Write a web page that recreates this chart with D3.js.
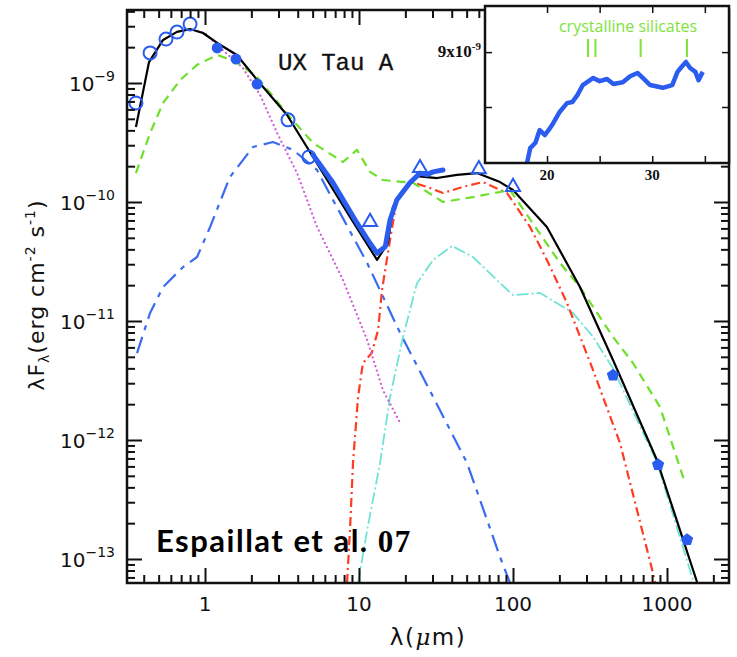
<!DOCTYPE html>
<html>
<head>
<meta charset="utf-8">
<script src="https://cdn.jsdelivr.net/npm/d3@7"></script>
<style>
body { margin: 0; background: #fff; }
</style>
</head>
<body>
<script>
// SED of UX Tau A, [lambda (um), lambda F_lambda (erg cm-2 s-1)]
var totalModel = [[0.356,4.27e-10],[0.433,1.50e-9],[0.534,2.30e-9],[0.658,2.69e-9],[0.80,2.84e-9],[0.97,2.63e-9],
  [1.20,2.17e-9],[1.61,1.72e-9],[2.18,1.06e-9],[3.41,5.38e-10],[5.03,2.39e-10],[8.74,7.48e-11],[13.1,3.26e-11],
  [15.4,4.52e-11],[16.6,9.08e-11],[19.3,1.26e-10],[23.8,1.65e-10],[32.1,1.59e-10],[43.3,1.69e-10],[58.3,1.75e-10],
  [82.4,1.47e-10],[100,1.26e-10],[166,6.17e-11],[272,1.93e-11],[446,4.70e-12],[860,6.79e-13],[1567,6.41e-14]];
var outerDisk = [[0.356,1.75e-10],[0.44,3.80e-10],[0.534,6.79e-10],[0.69,1.06e-9],[0.887,1.42e-9],[1.20,1.72e-9],
  [1.61,1.50e-9],[2.18,1.12e-9],[3.56,5.18e-10],[5.03,3.13e-10],[7.87,2.17e-10],[9.7,2.74e-10],[11.8,1.79e-10],
  [14.3,1.53e-10],[22.4,1.45e-10],[35.1,1.0e-10],[55,1.10e-10],[95.7,1.26e-10],[202,3.07e-11],[272,1.93e-11],
  [446,7.35e-12],[601,4.44e-12],[901,1.89e-12],[1309,4.36e-13]];
var photosphere = [[0.836,2.79e-9],[1.0,2.63e-9],[1.20,2.08e-9],[1.76,1.34e-9],[2.28,7.93e-10],[2.94,3.80e-10],
  [3.96,1.75e-10],[5.34,6.17e-11],[7.87,2.21e-11],[11.3,6.92e-12],[14.3,2.63e-12],[18.5,1.39e-12]];
var innerDisk = [[0.362,5.38e-12],[0.44,1.17e-11],[0.534,1.93e-11],[0.72,2.84e-11],[0.888,3.45e-11],[1.08,6.17e-11],
  [1.45,1.62e-10],[2.05,2.90e-10],[2.76,3.19e-10],[3.73,2.74e-10],[5.34,1.86e-10],[6.78,1.04e-10],[11.3,3.07e-11],
  [18.5,7.92e-12],[30.3,2.30e-12],[50.3,6.41e-13],[82.4,1.04e-13],[95.6,6.3e-14]];
var wall = [[8.36,6.3e-14],[8.74,1.75e-13],[9.14,6.41e-13],[9.86,2.30e-12],[10.6,4.44e-12],[12.1,5.38e-12],
  [13.3,8.39e-12],[14.1,1.82e-11],[15.9,4.80e-11],[17.6,1.04e-10],[22.1,1.47e-10],[27.6,1.34e-10],[35.1,1.19e-10],
  [47.3,1.34e-10],[63.8,1.47e-10],[91.4,1.19e-10],[129,6.17e-11],[166,3.26e-11],[224,1.42e-11],[331,3.87e-12],
  [495,9.44e-13],[811,7.62e-14],[836,6.3e-14]];
var diskAtmos = [[9.86,6.3e-14],[11.3,1.75e-13],[13.7,6.41e-13],[15.9,2.30e-12],[19.3,7.35e-12],[23.8,2.08e-11],
  [30.3,3.26e-11],[40.2,4.27e-11],[55,3.45e-11],[82.4,2.08e-11],[100,1.65e-11],[150,1.72e-11],[245,1.17e-11],
  [331,7.35e-12],[446,4.0e-12],[601,1.75e-12],[861,6.5e-13],[1475,6.67e-14]];
var irsSpectrum = [[5.03,2.48e-10],[6.78,1.45e-10],[9.7,6.67e-11],[11.8,4.5e-11],[13.1,3.72e-11],[14.8,4.2e-11],
  [15.9,7.06e-11],[17.6,1.04e-10],[21.4,1.45e-10],[24.9,1.75e-10],[27.5,1.70e-10],[30.3,1.79e-10],[35.1,1.86e-10]];

var openCircles = [[0.356,6.8e-10],[0.44,1.79e-9],[0.558,2.34e-9],[0.658,2.68e-9],[0.80,3.13e-9],[3.46,4.9e-10],[4.73,2.39e-10]];
var filledCircles = [[1.20,1.97e-9],[1.59,1.59e-9],[2.18,9.8e-10]];
var triangles = [[11.8,6.8e-11],[24.9,1.93e-10],[60,1.89e-10],[100,1.34e-10]];
var pentagons = [[446,3.5e-12],[875,6.2e-13],[1349,1.45e-13]];

var xMajor = [1, 10, 100, 1000];
var yMajorExp = [-13, -12, -11, -10, -9];

// inset: IRS spectrum zoom, [lambda (um), flux]
var insetSpectrum = [[18.1,6.98e-9],[18.4,7.25e-9],[18.9,7.35e-9],[19.3,7.58e-9],[19.8,7.49e-9],[20.3,7.62e-9],
  [20.6,7.71e-9],[21.2,7.91e-9],[21.9,8.07e-9],[22.4,8.09e-9],[22.9,8.22e-9],[23.4,8.40e-9],[24.4,8.53e-9],
  [25.0,8.47e-9],[25.7,8.51e-9],[26.3,8.42e-9],[27.2,8.45e-9],[27.9,8.56e-9],[28.6,8.62e-9],[29.1,8.53e-9],
  [29.8,8.40e-9],[31.0,8.35e-9],[31.9,8.40e-9],[32.4,8.64e-9],[32.7,8.71e-9],[33.2,8.82e-9],[33.6,8.71e-9],
  [34.1,8.64e-9],[34.4,8.49e-9],[34.8,8.64e-9]];
var silicateFeatures = [23.9, 24.6, 28.9, 33.3];
var insetXTicks = [20, 25, 30, 35];
var insetXLabels = [20, 30];
var insetYTicks = [8e-9, 9e-9];

var svg = d3.select("body").append("svg")
  .attr("width", 737)
  .attr("height", 657)

var L = 127, R = 729, T = 10, B = 583;

var x = d3.scaleLog().domain([0.3115, 2527]).range([L, R])
var y = d3.scaleLog().domain([6.285e-14, 4.106e-9]).range([B, T])

svg.append("clipPath").attr("id", "clip")
  .append("rect").attr("x", L).attr("y", T).attr("width", R - L).attr("height", B - T)

var line = d3.line().x(function(d){ return x(d[0]) }).y(function(d){ return y(d[1]) })

var plot = svg.append("g").attr("clip-path", "url(#clip)")

function curve(data, color, width, dash, cap) {
  plot.append("path")
    .attr("d", line(data))
    .attr("fill", "none")
    .attr("stroke", color)
    .attr("stroke-width", width)
    .attr("stroke-dasharray", dash)
    .attr("stroke-linecap", cap || "butt")
    .attr("stroke-linejoin", "round")
}

curve(innerDisk, "#3a6cf0", 2.2, "17,7,5,7")
curve(diskAtmos, "#6fe3d6", 1.8, "12,3,2,3")
curve(wall, "#ff3b22", 2.2, "9,4,2,4")
curve(photosphere, "#d05ad8", 2.2, "0.1,4.5", "round")
curve(outerDisk, "#6ee02a", 2.2, "9,6")
curve(totalModel, "#000", 2.2, null)
curve(irsSpectrum, "#2a5cf0", 5, null, "round")

// markers
var blue = "#2a5cf0";
var marks = svg.append("g")
marks.selectAll(".oc").data(openCircles).enter().append("circle")
  .attr("cx", function(d){ return x(d[0]) }).attr("cy", function(d){ return y(d[1]) })
  .attr("r", 6.5).attr("fill", "none").attr("stroke", blue).attr("stroke-width", 2)
marks.selectAll(".fc").data(filledCircles).enter().append("circle")
  .attr("cx", function(d){ return x(d[0]) }).attr("cy", function(d){ return y(d[1]) })
  .attr("r", 5.5).attr("fill", blue)
marks.selectAll(".tr").data(triangles).enter().append("path")
  .attr("d", d3.symbol().type(d3.symbolTriangle).size(85))
  .attr("transform", function(d){ return "translate(" + x(d[0]) + "," + y(d[1]) + ")" })
  .attr("fill", "none").attr("stroke", blue).attr("stroke-width", 2)

var pentagon = {
  draw: function(ctx, size) {
    var r = Math.sqrt(size / 2.378);
    for (var i = 0; i < 5; i++) {
      var a = -Math.PI / 2 + i * 2 * Math.PI / 5;
      if (i == 0) ctx.moveTo(r * Math.cos(a), r * Math.sin(a));
      else ctx.lineTo(r * Math.cos(a), r * Math.sin(a));
    }
    ctx.closePath();
  }
};
marks.selectAll(".pg").data(pentagons).enter().append("path")
  .attr("d", d3.symbol().type(pentagon).size(100))
  .attr("transform", function(d){ return "translate(" + x(d[0]) + "," + y(d[1]) + ")" })
  .attr("fill", blue)

// ticks, pointing inward on all four sides
var xAll = [], yAll = [];
for (var e = -1; e <= 3; e++) for (var m = 1; m <= 9; m++) xAll.push(m * Math.pow(10, e));
for (var e = -14; e <= -9; e++) for (var m = 1; m <= 9; m++) yAll.push(m * Math.pow(10, e));
xAll = xAll.filter(function(v){ return v >= 0.3115 && v <= 2527 });
yAll = yAll.filter(function(v){ return v >= 6.285e-14 && v <= 4.106e-9 });
var xMinor = xAll.filter(function(v){ return xMajor.indexOf(v) < 0 });
var yMajor = yMajorExp.map(function(e){ return Math.pow(10, e) });
var yMinor = yAll.filter(function(v){ return !yMajor.some(function(t){ return Math.abs(t - v) / t < 1e-6 }) });

function tickAxis(axis, tr, vals, len) {
  var g = svg.append("g").attr("transform", tr)
    .call(axis.tickValues(vals).tickSize(-len).tickFormat(""))
  g.select(".domain").remove()
  g.selectAll("line").attr("stroke", "#111").attr("stroke-width", 2)
}
tickAxis(d3.axisBottom(x), "translate(0," + B + ")", xMajor, 15)
tickAxis(d3.axisBottom(x), "translate(0," + B + ")", xMinor, 8)
tickAxis(d3.axisTop(x), "translate(0," + T + ")", xMajor, 15)
tickAxis(d3.axisTop(x), "translate(0," + T + ")", xMinor, 8)
tickAxis(d3.axisLeft(y), "translate(" + L + ",0)", yMajor, 15)
tickAxis(d3.axisLeft(y), "translate(" + L + ",0)", yMinor, 8)
tickAxis(d3.axisRight(y), "translate(" + R + ",0)", yMajor, 15)
tickAxis(d3.axisRight(y), "translate(" + R + ",0)", yMinor, 8)

svg.append("rect").attr("x", L).attr("y", T).attr("width", R - L).attr("height", B - T)
  .attr("fill", "none").attr("stroke", "#111").attr("stroke-width", 2.5)

// tick labels
var sans = "'DejaVu Sans', Verdana, sans-serif";
svg.selectAll(".xl").data(xMajor).enter().append("text")
  .attr("x", function(d){ return x(d) }).attr("y", 611)
  .attr("text-anchor", "middle").attr("font-family", sans).attr("font-size", 20).attr("fill", "#111")
  .text(function(d){ return d })

yMajorExp.forEach(function(e) {
  var t = svg.append("text").attr("x", 115).attr("y", y(Math.pow(10, e)) + 8)
    .attr("text-anchor", "end").attr("font-family", sans).attr("font-size", 20).attr("fill", "#111")
  t.append("tspan").text("10")
  t.append("tspan").attr("dy", -10).attr("font-size", 14).text("\u2212" + (-e))
})

// axis titles
svg.append("text").attr("x", 428).attr("y", 645).attr("text-anchor", "middle")
  .attr("font-family", sans).attr("font-size", 23).attr("letter-spacing", 1.5).attr("fill", "#111")
  .call(function(t){
    t.append("tspan").text("\u03bb(")
    t.append("tspan").attr("font-style", "italic").attr("font-family", "'DejaVu Serif', serif").text("\u03bc")
    t.append("tspan").text("m)")
  })

var yt = svg.append("text").attr("transform", "translate(44,295) rotate(-90)")
  .attr("text-anchor", "middle").attr("font-family", sans).attr("font-size", 22)
  .attr("letter-spacing", 1).attr("fill", "#111")
yt.append("tspan").text("\u03bbF")
yt.append("tspan").attr("dy", 5).attr("font-size", 14).text("\u03bb")
yt.append("tspan").attr("dy", -5).text("(erg cm")
yt.append("tspan").attr("dy", -9).attr("font-size", 14).text("-2")
yt.append("tspan").attr("dy", 9).text(" s")
yt.append("tspan").attr("dy", -9).attr("font-size", 14).text("-1")
yt.append("tspan").attr("dy", 9).text(")")

// annotations
svg.append("text").attr("x", 278).attr("y", 70)
  .attr("font-family", "'Liberation Mono', 'Courier New', monospace").attr("font-size", 24)
  .attr("fill", "#111").attr("stroke", "#111").attr("stroke-width", 0.35)
  .text("UX Tau A")

var ref = svg.append("text").attr("x", 156).attr("y", 552).attr("font-weight", "bold").attr("fill", "#000")
  .attr("letter-spacing", 1.5)
ref.append("tspan").attr("font-family", "Lato, sans-serif").attr("font-size", 31).text("Espaillat et al. ")
ref.append("tspan").attr("font-family", "'Liberation Serif', serif").attr("font-size", 31).text("07")

// inset
var IL = 485, IR = 729, IT = 6, IB = 163;
var ix = d3.scaleLinear().domain([14.2, 37.2]).range([IL + 1, IR - 1])
var iy = d3.scaleLinear().domain([6.98e-9, 9.84e-9]).range([IB, IT])

svg.append("rect").attr("x", IL).attr("y", IT).attr("width", IR - IL).attr("height", IB - IT)
  .attr("fill", "#fff")
svg.append("clipPath").attr("id", "iclip")
  .append("rect").attr("x", IL).attr("y", IT).attr("width", IR - IL).attr("height", IB - IT)

var iline = d3.line().x(function(d){ return ix(d[0]) }).y(function(d){ return iy(d[1]) })
svg.append("path").attr("clip-path", "url(#iclip)")
  .attr("d", iline(insetSpectrum)).attr("fill", "none").attr("stroke", "#2a5cf0")
  .attr("stroke-width", 4.5).attr("stroke-linejoin", "round")

function insetTicks(axis, tr, vals) {
  var g = svg.append("g").attr("transform", tr)
    .call(axis.tickValues(vals).tickSize(-7).tickFormat(""))
  g.select(".domain").remove()
  g.selectAll("line").attr("stroke", "#111").attr("stroke-width", 1.5)
}
insetTicks(d3.axisBottom(ix), "translate(0," + IB + ")", insetXTicks)
insetTicks(d3.axisTop(ix), "translate(0," + IT + ")", insetXTicks)
insetTicks(d3.axisLeft(iy), "translate(" + IL + ",0)", insetYTicks)
insetTicks(d3.axisRight(iy), "translate(" + IR + ",0)", insetYTicks)

svg.append("rect").attr("x", IL).attr("y", IT).attr("width", IR - IL).attr("height", IB - IT)
  .attr("fill", "none").attr("stroke", "#111").attr("stroke-width", 2.5)

var serif = "'Liberation Serif', 'Times New Roman', serif";
svg.selectAll(".ixl").data(insetXLabels).enter().append("text")
  .attr("x", function(d){ return ix(d) }).attr("y", 180)
  .attr("text-anchor", "middle").attr("font-family", serif).attr("font-weight", "bold")
  .attr("font-size", 15).attr("fill", "#111").text(function(d){ return d })

var iyl = svg.append("text").attr("x", 481).attr("y", iy(9e-9) + 5)
  .attr("text-anchor", "end").attr("font-family", serif).attr("font-weight", "bold")
  .attr("font-size", 17).attr("fill", "#111")
iyl.append("tspan").text("9x10")
iyl.append("tspan").attr("dy", -7).attr("font-size", 11).text("-9")

var lime = "#7ee23a";
svg.selectAll(".sil").data(silicateFeatures).enter().append("line")
  .attr("x1", function(d){ return ix(d) }).attr("x2", function(d){ return ix(d) })
  .attr("y1", 39).attr("y2", 57).attr("stroke", lime).attr("stroke-width", 2)
svg.append("text").attr("x", 628).attr("y", 32).attr("text-anchor", "middle")
  .attr("font-family", "'Open Sans', sans-serif").attr("font-size", 16).attr("fill", lime)
  .text("crystalline silicates")
</script>
</body>
</html>
